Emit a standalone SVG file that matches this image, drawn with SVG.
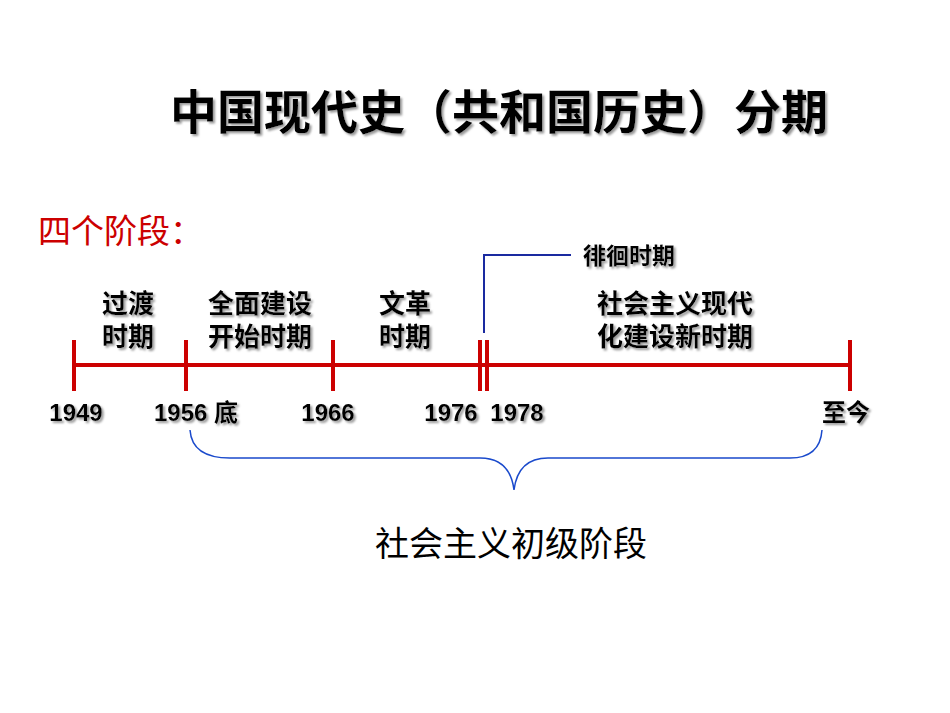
<svg xmlns="http://www.w3.org/2000/svg" width="950" height="713" viewBox="0 0 950 713">
<defs><style>
.t{font-family:"Liberation Sans","Noto Sans CJK SC",sans-serif;font-weight:bold;fill:#000}
.r{stroke:#cc0000;stroke-width:4;fill:none}
.b{stroke:#1a2aa0;stroke-width:2;fill:none}
</style>
<filter id="sh"><feDropShadow dx="2" dy="2" stdDeviation="0.8" flood-color="#999"/></filter></defs>
<rect width="950" height="713" fill="#fff"/>
<text class="t" x="499" y="129" font-size="47" text-anchor="middle" filter="url(#sh)">中国现代史（共和国历史）分期</text>
<text x="38" y="243" font-size="33" fill="#cc0000" font-family="Liberation Sans,Noto Sans CJK SC,sans-serif">四个阶段：</text>
<g id="connectors">
<path class="r" d="M74 365H850M74 340V391M186 340V391M333 340V391M480 340V391M487 340V391M850 340V391"/>
<path class="b" d="M484 333V255H571"/>
<path d="M190 430Q192 458 230 458H480Q510 458 514 490Q518 458 548 458H790Q820 458 822 430" stroke="#1a4acc" stroke-width="1.5" fill="none"/>
</g>
<g filter="url(#sh)" font-size="26">
<g id="n1"><text class="t" x="128" y="313" text-anchor="middle">过渡</text><text class="t" x="128" y="346" text-anchor="middle">时期</text></g>
<g id="n2"><text class="t" x="260" y="313" text-anchor="middle">全面建设</text><text class="t" x="260" y="346" text-anchor="middle">开始时期</text></g>
<g id="n3"><text class="t" x="405" y="313" text-anchor="middle">文革</text><text class="t" x="405" y="346" text-anchor="middle">时期</text></g>
<g id="n4"><text class="t" x="675" y="313" text-anchor="middle">社会主义现代</text><text class="t" x="675" y="346" text-anchor="middle">化建设新时期</text></g>
<g id="n5"><text class="t" x="583" y="264" font-size="23">徘徊时期</text></g>
<g id="years" font-size="24">
<text class="t" x="76" y="421" text-anchor="middle">1949</text>
<text class="t" x="154" y="421">1956 底</text>
<text class="t" x="328" y="421" text-anchor="middle">1966</text>
<text class="t" x="451" y="421" text-anchor="middle">1976</text>
<text class="t" x="517" y="421" text-anchor="middle">1978</text>
<text class="t" x="846" y="421" text-anchor="middle">至今</text>
</g></g>
<text x="511" y="556" font-size="34" text-anchor="middle" font-family="Liberation Sans,Noto Sans CJK SC,sans-serif" fill="#000">社会主义初级阶段</text>
</svg>
